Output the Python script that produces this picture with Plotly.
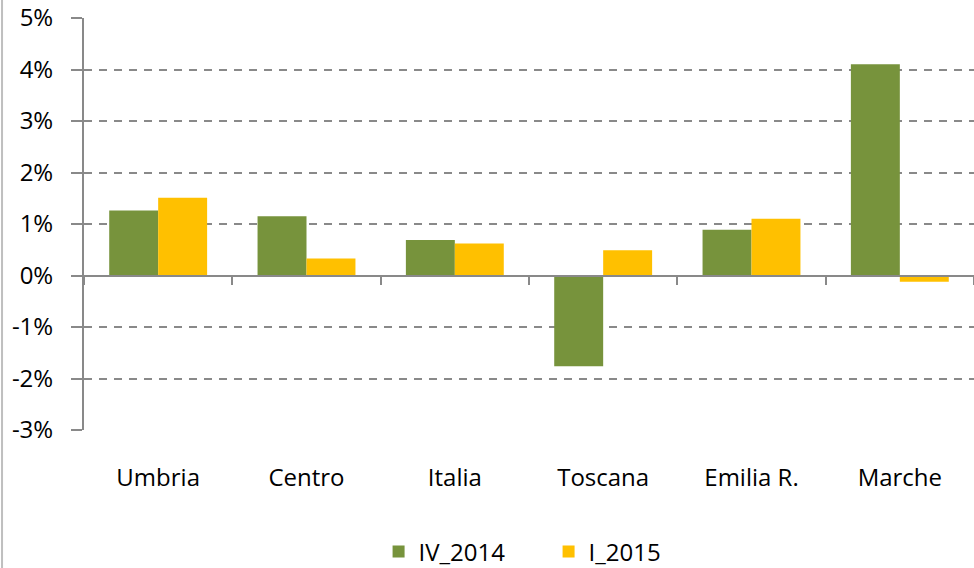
import plotly.graph_objects as go

categories = ["Umbria", "Centro", "Italia", "Toscana", "Emilia R.", "Marche"]
iv_2014 = [1.26, 1.15, 0.69, -1.76, 0.89, 4.10]
i_2015 = [1.51, 0.33, 0.62, 0.49, 1.10, -0.12]
y_tickvals = [-3, -2, -1, 0, 1, 2, 3, 4, 5]
y_ticktext = ["-3%", "-2%", "-1%", "0%", "1%", "2%", "3%", "4%", "5%"]

GREEN = "#77933C"
YELLOW = "#FFC000"
GRAY = "#898989"
FONT = "Open Sans"
FS = 24

fig = go.Figure()
fig.add_trace(go.Bar(x=categories, y=iv_2014, name="IV_2014", marker=dict(color=GREEN, line=dict(width=0))))
fig.add_trace(go.Bar(x=categories, y=i_2015, name="I_2015", marker=dict(color=YELLOW, line=dict(width=0))))
# invisible helper trace for the zero-line category axis
fig.add_trace(go.Scatter(x=categories, y=[0] * len(categories), xaxis="x2", mode="markers",
                         marker=dict(opacity=0), showlegend=False, hoverinfo="skip"))

fig.update_layout(
    width=974, height=568,
    margin=dict(l=84, r=0, t=18, b=138, autoexpand=False),
    paper_bgcolor="white", plot_bgcolor="white",
    barmode="group", bargap=0.34, bargroupgap=0,
    font=dict(family=FONT, size=FS, color="black"),
    showlegend=True,
    legend=dict(orientation="h", x=0.522, xanchor="center", y=-0.296, yanchor="middle",
                font=dict(family=FONT, size=FS, color="black"), itemwidth=30,
                entrywidth=125, entrywidthmode="pixels",
                traceorder="normal"),
    xaxis=dict(type="category", categoryorder="array", categoryarray=categories,
               range=[-0.5, 5.5], showline=False, ticks="", showgrid=False,
               ticklabelstandoff=31, tickfont=dict(family=FONT, size=FS)),
    xaxis2=dict(type="category", categoryorder="array", categoryarray=categories,
                range=[-0.5, 5.5], overlaying="x", anchor="free", position=0.375,
                side="bottom", showline=True, linecolor=GRAY, linewidth=2,
                ticks="outside", tickson="boundaries", ticklen=8, tickwidth=2,
                tickcolor=GRAY, showticklabels=False, showgrid=False),
    yaxis=dict(range=[-3, 5], tickvals=y_tickvals, ticktext=y_ticktext,
               showline=True, linecolor=GRAY, linewidth=2,
               ticks="outside", ticklen=11, tickwidth=2, tickcolor=GRAY,
               showgrid=True, gridcolor=GRAY, gridwidth=2, griddash="8px,7px",
               zeroline=False, ticklabelstandoff=13,
               tickfont=dict(family=FONT, size=FS)),
    shapes=[dict(type="line", xref="paper", yref="paper",
                 x0=-0.0921, x1=-0.0921, y0=-0.34, y1=1.05,
                 line=dict(color="#BFBFBF", width=2))],
)

fig.write_html("out.html", config={"displayModeBar": False},
               post_script="document.body.style.margin='0px';")
